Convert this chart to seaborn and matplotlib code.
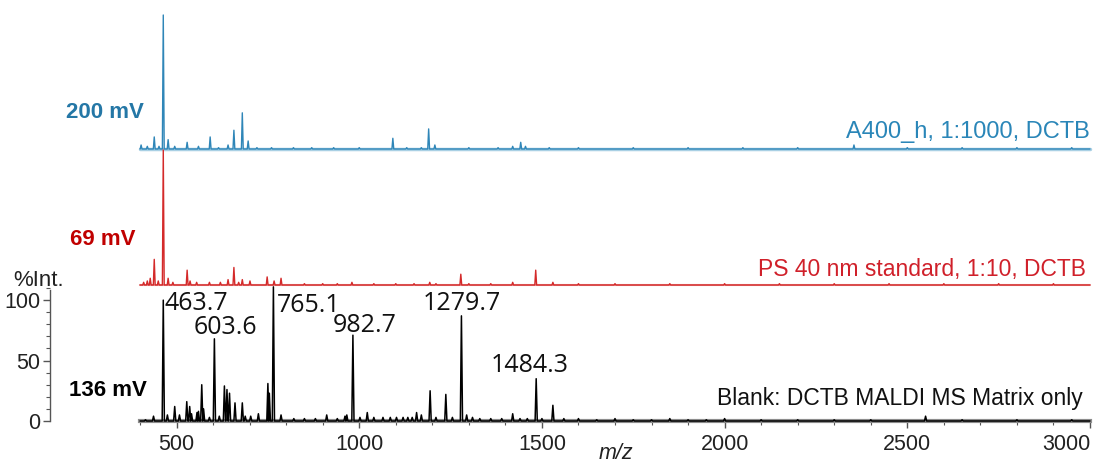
import pandas as pd
import seaborn as sns
import matplotlib.pyplot as plt
from matplotlib.ticker import MultipleLocator

# peak lists: m/z and relative height (% of trace maximum)
blue_mz = [403, 420, 439, 452, 463.7, 477, 495, 529, 560, 592, 615, 641, 657, 680, 696,
           720, 760, 820, 870, 930, 1000, 1092, 1130, 1170, 1190, 1207, 1300, 1380, 1420,
           1442, 1455, 1520, 1600, 1750, 1900, 2050, 2200, 2354, 2500, 2650, 2800, 2950]
blue_int = [3, 2, 9, 2, 100, 7, 2, 5, 2, 9, 1, 3, 14, 27, 6,
            1, 1, 1, 1, 1, 1, 8, 1, 1, 15, 3, 1, 1, 2,
            5, 2, 1, 1, 1, 1, 1, 1, 3, 1, 1, 1, 1]

red_mz = [410, 420, 428, 439, 450, 463.7, 477, 490, 529, 537, 555, 590, 620, 641, 657, 670,
          680, 701, 748, 767, 786, 850, 900, 940, 980, 1040, 1100, 1150, 1193, 1210, 1278,
          1300, 1360, 1420, 1483, 1530, 1600, 1700, 1850, 2000, 2150, 2300, 2450, 2600,
          2750, 2900]
red_int = [2, 3, 5, 19, 3, 100, 5, 2, 11, 3, 2, 2, 2, 4, 13, 2,
           4, 3, 6, 3, 5, 1, 1, 1, 2, 1, 1, 1, 2, 1, 8,
           1, 1, 2, 11, 2, 1, 1, 1, 1, 1, 1, 1, 1,
           1, 1]

black_mz = [415, 437, 463.7, 475, 495, 508, 528, 536, 541, 556, 560, 569, 574, 590, 603.6,
            617, 631, 638, 645, 660, 680, 688, 703, 724, 750, 754, 765.1, 786, 821, 850,
            880, 911, 940, 961, 966, 982.7, 1002, 1022, 1040, 1065, 1085, 1102, 1120, 1133,
            1145, 1157, 1170, 1194, 1210, 1237, 1255, 1279.7, 1294, 1310, 1330, 1360, 1390,
            1420, 1440, 1460, 1484.3, 1500, 1530, 1560, 1600, 1650, 1700, 1750, 1800, 1850,
            1900, 1950, 2000, 2100, 2200, 2300, 2400, 2550, 2650, 2800, 2950]
black_int = [1, 4, 100, 5, 12, 5, 16, 12, 6, 7, 8, 30, 10, 3, 68,
             4, 29, 26, 23, 15, 15, 4, 4, 6, 31, 23, 111, 5, 2, 2,
             2, 5, 2, 4, 5, 71, 3, 7, 3, 3, 3, 3, 3, 3,
             3, 7, 5, 25, 3, 22, 3, 87, 5, 3, 2, 2, 2,
             6, 2, 2, 35, 2, 13, 2, 2, 1, 2, 1, 1, 2,
             1, 1, 2, 1, 1, 1, 1, 4, 1, 1, 1]

label_text = ['463.7', '603.6', '765.1', '982.7', '1279.7', '1484.3']
x_ticks = [500, 1000, 1500, 2000, 2500, 3000]
y_ticks = [0, 50, 100]

W, H = 1099, 468
X0, X1 = 400, 3000


def sticks(mz, inten, w=2.5):
    xs, ys = [X0], [0]
    for m, h in zip(mz, inten):
        xs += [m - w, m, m + w]
        ys += [0, h, 0]
    xs.append(X1)
    ys.append(0)
    return pd.DataFrame({'mz': xs, 'intensity': ys})


def px_axes(left, top, right, bottom):
    return fig.add_axes([left / W, 1 - bottom / H, (right - left) / W, (bottom - top) / H])


sns.set_style('white')
plt.rcParams['font.family'] = ['Liberation Sans', 'DejaVu Sans']

fig = plt.figure(figsize=(W / 100, H / 100), dpi=100)

ax_b = px_axes(140, 15, 1090, 149)
ax_r = px_axes(140, 150, 1090, 285)
ax_k = px_axes(140, 282, 1090, 421)

# blue trace
ax_b.axhline(0, color='#a9d0e4', lw=2.5, zorder=1)
sns.lineplot(data=sticks(blue_mz, blue_int), x='mz', y='intensity', ax=ax_b,
             color='#2f86b8', lw=1, estimator=None, sort=False, zorder=3)
# red trace
ax_r.axhline(0, color='#e9a0a0', lw=1.5, zorder=1)
sns.lineplot(data=sticks(red_mz, red_int), x='mz', y='intensity', ax=ax_r,
             color='#d42a2a', lw=1, estimator=None, sort=False, zorder=3)
# black trace
sns.lineplot(data=sticks(black_mz, black_int, w=3), x='mz', y='intensity', ax=ax_k,
             color='black', lw=1.1, estimator=None, sort=False, zorder=3)

for ax in (ax_b, ax_r, ax_k):
    ax.set_xlim(X0, X1)
    ax.set_xlabel('')
    ax.set_ylabel('')
    ax.patch.set_alpha(0)
    for ln in ax.lines:
        ln.set_clip_on(False)

ax_b.set_ylim(0, 100)
ax_r.set_ylim(0, 100)
for ax in (ax_b, ax_r):
    ax.set_xticks([])
    ax.set_yticks([])
    for s in ax.spines.values():
        s.set_visible(False)

ax_k.set_ylim(0, 115)
ax_k.spines['top'].set_visible(False)
ax_k.spines['right'].set_visible(False)
ax_k.spines['bottom'].set_color('#8c8c8c')
ax_k.spines['bottom'].set_linewidth(3)
ax_k.spines['left'].set_position(('outward', 64.8))
ax_k.spines['left'].set_bounds(0, 108)
ax_k.spines['left'].set_color('#555555')
ax_k.spines['left'].set_linewidth(1)
ax_k.set_xticks(x_ticks)
ax_k.set_xticklabels([str(t) for t in x_ticks])
ax_k.xaxis.set_minor_locator(MultipleLocator(100))
ax_k.set_yticks(y_ticks)
ax_k.set_yticklabels([str(t) for t in y_ticks])
ax_k.yaxis.set_minor_locator(MultipleLocator(10))
ax_k.tick_params(axis='both', which='major', direction='out', length=5, width=1,
                 color='#555555', labelsize=15.5, labelcolor='#222222', pad=4,
                 bottom=True, left=True)
ax_k.tick_params(axis='both', which='minor', direction='out', length=3, width=0.8,
                 color='#555555', bottom=True, left=True)
ax_k.tick_params(axis='y', pad=2)
ax_k.get_xticklabels()[-1].set_horizontalalignment('right')
ax_k.get_xticklabels()[-1].set_x(3000)

# label anchor (m/z, height, alignment) beside each annotated peak
label_pos = [(468, 91.8, 'left'), (635, 72, 'center'), (775, 90, 'left'),
             (1016, 73.6, 'center'), (1281, 91.7, 'center'), (1467, 40.5, 'center')]
for t, (x, y, ha) in zip(label_text, label_pos):
    ax_k.text(x, y, t, ha=ha, va='baseline', fontsize=18,
              family=['Open Sans', 'DejaVu Sans'], color='#111111')

fig.text(144 / W, 1 - 113 / H, '200 mV', ha='right', va='center', fontsize=16,
         fontweight='bold', color='#2477a6')
fig.text(136 / W, 1 - 240 / H, '69 mV', ha='right', va='center', fontsize=16,
         fontweight='bold', color='#c00000')
fig.text(147 / W, 1 - 390 / H, '136 mV', ha='right', va='center', fontsize=16,
         fontweight='bold', color='black')

fig.text(1090 / W, 1 - 138 / H, 'A400_h, 1:1000, DCTB', ha='right', va='baseline',
         fontsize=17, color='#2a86b8')
fig.text(1086 / W, 1 - 276 / H, 'PS 40 nm standard, 1:10, DCTB', ha='right', va='baseline',
         fontsize=16.5, color='#d0202a')
fig.text(1083 / W, 1 - 405 / H, 'Blank: DCTB MALDI MS Matrix only', ha='right',
         va='baseline', fontsize=16.5, color='#111111')

fig.text(13 / W, 1 - 280 / H, '%Int.', ha='left', va='center', fontsize=16, color='#222222')
fig.text(616 / W, 1 - 464 / H, 'm/z', ha='center', va='bottom', fontsize=15.5,
         style='italic', color='#222222')

fig.savefig('out.png', dpi=100)
